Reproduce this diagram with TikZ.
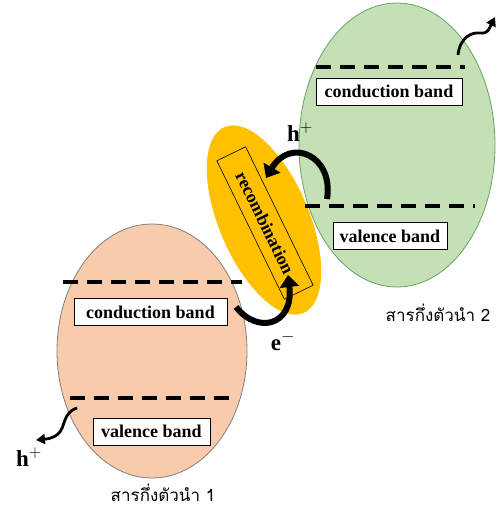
\documentclass[tikz,border=0pt]{standalone}
\usepackage{fontspec}
\setmainfont{Liberation Serif}
\newfontfamily\thaifont[Script=Thai]{Loma}
\usetikzlibrary{arrows.meta}
\definecolor{greenfill}{HTML}{C5E0B4}
\definecolor{peachfill}{HTML}{F8CBAD}
\definecolor{goldfill}{HTML}{FFC000}
\tikzset{
  bandbox/.style={draw=black, line width=0.9pt, fill=white, inner sep=0pt,
    minimum height=27pt, font=\fontsize{18}{20}\selectfont\bfseries},
  bandline/.style={line width=3.5pt, dash pattern=on 15pt off 9pt},
  flowarrow/.style={line width=6pt, -{Triangle[length=12pt,width=19pt]}},
  wiggle/.style={line width=2.8pt, -{Triangle[length=9pt,width=10pt]}},
  carrier/.style={font=\fontsize{23}{26}\selectfont\bfseries},
  material/.style={inner sep=0pt, font=\thaifont\fontsize{17}{20}\selectfont}
}

\begin{document}
\begin{tikzpicture}[x=1pt,y=1pt]
\useasboundingbox (0,0) rectangle (496,507);

\draw[draw=black!60!green!60, line width=0.8pt, fill=greenfill] (397,362) ellipse [x radius=98pt, y radius=142pt];
\draw[draw=black!50, line width=0.8pt, fill=peachfill] (152,156) ellipse [x radius=95pt, y radius=127pt];
\fill[goldfill] (264,287) ellipse [x radius=45pt, y radius=101pt, rotate=23];

\node[draw=black, line width=0.6pt, minimum width=154pt, minimum height=32pt, inner sep=0pt,
  rotate=-64, font=\fontsize{18}{20}\selectfont\bfseries] (recomb) at (265,284) {recombination};

\draw[bandline] (316,440) -- (465,440);
\draw[bandline] (305,301) -- (475,301);
\draw[bandline] (63,225) -- (242,225);
\draw[bandline] (70,109) -- (232,109);

\node[bandbox, minimum width=146pt] (cb2) at (389,415.5) {conduction band};
\node[bandbox, minimum width=114pt] (vb2) at (390,271) {valence band};
\node[bandbox, minimum width=153pt] (cb1) at (150.5,195) {conduction band};
\node[bandbox, minimum width=117pt] (vb1) at (151.5,75.5) {valence band};

\node[carrier] (hole2) at (300,375) {h$^{+}$};
\node[carrier] (elec) at (283,166) {e$^{-}$};
\node[carrier] (hole1) at (29,50) {h$^{+}$};

\node[material] (mat2) at (438,194) {สารกึ่งตัวนำ 2};
\node[material] (mat1) at (163,14) {สารกึ่งตัวนำ 1};

\coordinate (h2start) at (327,308);
\coordinate (h2end) at (266,329);
\coordinate (e1start) at (236,200);
\coordinate (e1end) at (288,232);
\coordinate (out2start) at (458,452);
\coordinate (out2end) at (495,490);
\coordinate (out1start) at (77,99);
\coordinate (out1end) at (36,67);

\draw[flowarrow] (h2start) .. controls (334,352) and (290,370) .. (h2end);
\draw[flowarrow] (e1start) .. controls (258,172) and (294,182) .. (e1end);
\draw[wiggle] (out2start) .. controls (460,470) and (472,475) .. (480,474) .. controls (488,473) and (489,478) .. (out2end);
\draw[wiggle] (out1start) .. controls (62,94) and (66,80) .. (58,73) .. controls (52,68) and (46,68) .. (out1end);
\end{tikzpicture}
\end{document}
